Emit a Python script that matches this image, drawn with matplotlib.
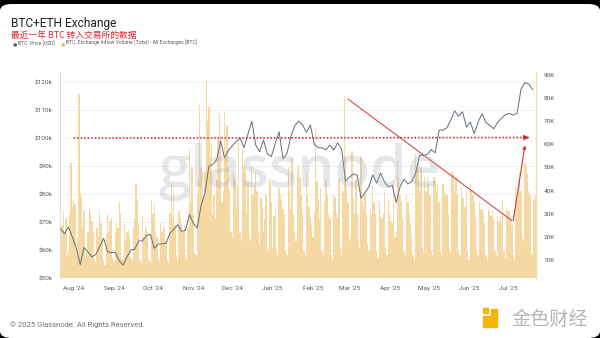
import matplotlib
matplotlib.use("Agg")
import matplotlib.pyplot as plt
import matplotlib.dates as mdates
import pandas as pd
from matplotlib.patches import FancyBboxPatch, Rectangle
from matplotlib.transforms import blended_transform_factory

start = "2024-07-22"

# daily BTC exchange inflow, thousands of BTC
inflow_k = [
    38, 25, 31, 22, 28, 12, 14, 30, 52, 33,
    36, 34, 12, 20, 82, 39, 37, 24, 31, 11,
    13, 22, 33, 30, 27, 22, 10, 9, 24, 20,
    31, 26, 18, 10, 8, 21, 30, 22, 27, 28,
    11, 9, 22, 26, 24, 35, 30, 11, 10, 25,
    18, 22, 23, 20, 11, 10, 24, 28, 43, 36,
    26, 10, 9, 29, 20, 25, 24, 22, 10, 9,
    36, 30, 34, 22, 20, 11, 9, 26, 22, 25,
    24, 18, 10, 9, 30, 43, 28, 39, 25, 12,
    10, 31, 28, 25, 22, 25, 12, 11, 24, 58,
    35, 50, 30, 13, 12, 38, 45, 77, 50, 48,
    36, 48, 88, 70, 76, 55, 60, 30, 38, 28,
    45, 62, 73, 64, 35, 40, 74, 55, 68, 51,
    40, 22, 20, 47, 45, 32, 42, 62, 22, 18,
    58, 50, 48, 30, 44, 20, 18, 50, 38, 42,
    48, 40, 22, 17, 37, 33, 22, 28, 38, 15,
    14, 45, 35, 15, 29, 33, 14, 12, 41, 38,
    36, 32, 30, 14, 12, 50, 40, 32, 54, 30,
    22, 18, 48, 51, 46, 38, 30, 14, 12, 47,
    38, 33, 28, 25, 20, 30, 67, 44, 36, 28,
    41, 14, 12, 35, 45, 38, 30, 28, 12, 10,
    38, 37, 30, 28, 45, 15, 12, 40, 81, 55,
    42, 35, 18, 20, 57, 37, 30, 45, 30, 18,
    15, 55, 35, 33, 39, 30, 17, 14, 32, 30,
    42, 35, 30, 14, 11, 35, 29, 28, 30, 40,
    15, 12, 36, 30, 27, 26, 44, 20, 22, 53,
    46, 38, 35, 28, 14, 12, 38, 35, 30, 25,
    21, 12, 10, 56, 50, 54, 40, 50, 15, 13,
    46, 40, 46, 43, 38, 14, 12, 46, 44, 40,
    43, 35, 14, 12, 43, 40, 38, 38, 30, 15,
    13, 48, 47, 40, 46, 38, 14, 12, 41, 37,
    37, 33, 40, 14, 10, 43, 40, 38, 35, 28,
    14, 12, 35, 32, 32, 30, 26, 12, 10, 32,
    31, 29, 31, 28, 14, 12, 29, 27, 29, 25,
    36, 14, 11, 32, 31, 31, 28, 25, 12, 10,
    42, 36, 44, 48, 40, 20, 18, 52, 50, 47,
    40, 38, 13, 12, 36, 38,
]

# BTC price every 3 days, thousands of USD
price_k = [
    67.6, 65.8, 68.2, 64.6,
    60.7, 54.8, 60.9, 59.3, 57.5, 58.4, 61.2, 64.2, 59.4, 59.1,
    59.1, 56.2, 54.6, 57.6, 60.0, 60.3, 63.2, 63.3, 65.2, 65.6,
    60.6, 62.1, 62.2, 62.4, 66.0, 67.4, 69.0, 66.7, 67.0, 72.7,
    69.5, 67.8, 75.9, 80.5, 90.0, 90.6, 92.3, 98.9, 93.0, 95.6,
    97.2, 98.8, 99.9, 96.6, 101.4, 106.0, 97.5, 95.1, 99.3, 94.3, 93.4,
    98.1, 102.2, 92.5, 94.5, 100.5, 104.4, 106.1, 104.7, 102.0, 104.7,
    97.7, 96.6, 96.5, 95.8, 97.5, 95.7, 98.3, 96.1, 84.7,
    86.0, 87.2, 86.7, 78.5, 80.5, 82.6, 86.8, 83.9, 87.5, 84.3, 82.5,
    83.1, 77.0, 82.6, 85.3, 83.6, 84.5, 87.5, 93.9, 93.8, 94.2,
    95.9, 94.7, 102.9, 102.8, 103.7, 106.5, 109.7, 107.8, 109.4, 103.9,
    105.7, 101.6, 105.7, 108.7, 105.6, 104.5, 103.3, 105.6, 107.1, 108.4,
    108.8, 108.2, 108.9, 117.5, 119.8, 119.3, 117.3,
]

price_ticks_k = [50, 60, 70, 80, 90, 100, 110, 120]
inflow_ticks_k = [10, 20, 30, 40, 50, 60, 70, 80, 90]

# red annotations (date, price in k)
level_line = (["2024-08-01", "2025-07-17"], [100, 100.2])
down_line = (["2025-02-28", "2025-07-04"], [113.9, 70.5])
up_line = (["2025-07-05", "2025-07-14"], [70.5, 97.4])

days = pd.date_range(start, periods=len(inflow_k), freq="D")
price_days = pd.date_range(start, periods=len(price_k), freq="3D")

W, H = 600, 338
fig = plt.figure(figsize=(6, 3.38), dpi=100, facecolor="black")


def fx(x):
    return x / W


def fy(y):
    return 1 - y / H


# white card with rounded corners over black screenshot border
card = FancyBboxPatch((0, 0), 1, fy(4), boxstyle="round,pad=0,rounding_size=0.02",
                      transform=fig.transFigure, facecolor="white", edgecolor="none",
                      zorder=-10)
fig.patches.append(card)

ax_bar = fig.add_axes([fx(60), fy(278), fx(536) - fx(60), fy(72) - fy(278)])
ax_price = ax_bar.twinx()

bar_color = "#f6d9a2"
ax_bar.bar(days, [v * 1000 for v in inflow_k], width=1.0, color=bar_color,
           edgecolor="none", zorder=1)

# horizontal grid lines of the price axis, behind the bars
grid_tr = blended_transform_factory(ax_bar.transAxes, ax_price.transData)
for v in price_ticks_k:
    ax_bar.plot([0, 1], [v * 1000, v * 1000], transform=grid_tr,
                color="#eceef1", lw=0.6, zorder=0.5)

ax_price.plot(price_days, [v * 1000 for v in price_k], color="#626d77", lw=0.7, zorder=3)

red = "#de2f35"
ax_price.plot(pd.to_datetime(level_line[0]), [v * 1000 for v in level_line[1]],
              color="#cc1f26", lw=1.1, ls=(0, (1, 1.3)), zorder=4)
ax_price.annotate("", xy=(pd.Timestamp(level_line[0][1]), level_line[1][1] * 1000),
                  xytext=(pd.Timestamp(level_line[0][1]) - pd.Timedelta(days=3),
                          level_line[1][1] * 1000),
                  arrowprops=dict(arrowstyle="-|>", color="#cc1f26", lw=0.8,
                                  mutation_scale=7), zorder=4)
ax_price.plot(pd.to_datetime(down_line[0]), [v * 1000 for v in down_line[1]],
              color=red, lw=0.7, zorder=4)
ax_price.annotate("", xy=(pd.Timestamp(up_line[0][1]), up_line[1][1] * 1000),
                  xytext=(pd.Timestamp(up_line[0][0]), up_line[1][0] * 1000),
                  arrowprops=dict(arrowstyle="-|>", color=red, lw=0.8,
                                  mutation_scale=5, shrinkA=0, shrinkB=0), zorder=4)

ax_bar.set_xlim(days[0] - pd.Timedelta(hours=12), days[-1] + pd.Timedelta(hours=12))
ax_bar.set_ylim(2200, 91300)
ax_price.set_ylim(50000, 123600)

# price axis on the left, inflow axis on the right
ax_price.yaxis.tick_left()
ax_bar.yaxis.tick_right()
ax_price.set_yticks([v * 1000 for v in price_ticks_k])
ax_price.set_yticklabels([f"${v}k" for v in price_ticks_k])
ax_bar.set_yticks([v * 1000 for v in inflow_ticks_k])
ax_bar.set_yticklabels([f"{v}K" for v in inflow_ticks_k])

ax_bar.xaxis.set_major_locator(mdates.MonthLocator())
ax_bar.xaxis.set_major_formatter(mdates.DateFormatter("%b '%y"))

tick_font = dict(labelsize=4.6, labelcolor="#555b63", length=0)
ax_bar.tick_params(axis="x", pad=6, **tick_font)
ax_bar.tick_params(axis="y", pad=5.5, **tick_font)
ax_price.tick_params(axis="y", pad=5.5, **tick_font)
for lab in ax_bar.get_xticklabels() + ax_bar.get_yticklabels() + ax_price.get_yticklabels():
    lab.set_family("Roboto")

for a in (ax_bar, ax_price):
    for s in ("top", "bottom", "left", "right"):
        a.spines[s].set_visible(False)
ax_price.spines["left"].set_visible(True)
ax_price.spines["left"].set_color("#d9dde2")
ax_price.spines["left"].set_linewidth(0.8)
ax_bar.spines["right"].set_visible(True)
ax_bar.spines["right"].set_color("#f1d9a8")
ax_bar.spines["right"].set_linewidth(0.9)

# watermark
fig.text(fx(299), fy(172), "glassnode", ha="center", va="center", fontsize=42,
         family="Open Sans", fontweight="semibold", color="#a4aab3", alpha=0.28,
         zorder=5)

# header
fig.text(fx(11), fy(23), "BTC+ETH Exchange", fontsize=8.6, family="Roboto",
         color="#1d1f22", va="center")
fig.text(fx(11), fy(35), "最近一年 BTC 转入交易所的数据", fontsize=6.3,
         family=["Noto Sans CJK SC", "DejaVu Sans"], color="#e0262b", va="center")
fig.text(fx(13), fy(43.5), "●", fontsize=3.5, color="#5b6670", va="center")
fig.text(fx(18), fy(43.5), "BTC: Price [USD]", fontsize=3.6, family="Roboto",
         color="#555b63", va="center")
fig.text(fx(61), fy(43.5), "●", fontsize=3.5, color="#f2bd58", va="center")
fig.text(fx(66), fy(43.5), "BTC: Exchange Inflow Volume (Total) - All Exchanges [BTC]",
         fontsize=3.6, family="Roboto", color="#555b63", va="center")

# footer
fig.text(fx(10), fy(325), "© 2025 Glassnode. All Rights Reserved.", fontsize=5.5,
         family="Roboto", color="#6b7079", va="center")

# 金色财经 logo
fig.patches.append(Rectangle((fx(483), fy(327)), fx(14), fy(316) - fy(327),
                             transform=fig.transFigure, color="#f5b50a"))
fig.patches.append(Rectangle((fx(491), fy(318)), fx(6), fy(309) - fy(318),
                             transform=fig.transFigure, color="#f5b50a"))
fig.patches.append(Rectangle((fx(483), fy(313)), fx(5), fy(308) - fy(313),
                             transform=fig.transFigure, color="#f5b50a"))
fig.text(fx(550), fy(319), "金色财经", ha="center", va="center", fontsize=13.8,
         family="Noto Sans CJK SC", color="#b5b5b5")

fig.savefig("out.png", dpi=100, facecolor=fig.get_facecolor())
